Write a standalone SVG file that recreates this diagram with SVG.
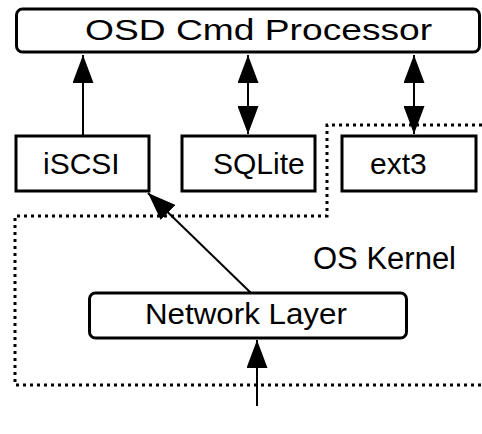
<svg xmlns="http://www.w3.org/2000/svg" width="482" height="434" viewBox="0 0 482 434">
<style>
.box{fill:#fff;stroke:#000;stroke-width:3}
.t{font-family:"Liberation Sans",Arial,sans-serif;fill:#000}
.c{stroke:#000;stroke-width:2;fill:none}
.dot{stroke:#000;stroke-width:3;fill:none;stroke-dasharray:3 4}
</style>
<defs>
<marker id="ah" viewBox="0 0 28 21" refX="28" refY="10.5" markerWidth="28" markerHeight="21" markerUnits="userSpaceOnUse" orient="auto-start-reverse">
<path d="M0,0 L28,10.5 L0,21 z" fill="#000"/>
</marker>
</defs>
<g id="kernel">
<path class="dot" d="M482,125 L327,125 L327,216 L15,216 L15,385 L482,385"/>
<text class="t" x="313" y="269" font-size="31">OS Kernel</text>
</g>
<g id="osd">
<rect class="box" x="16.5" y="9" width="463" height="43" rx="6"/>
<text class="t" transform="translate(85,40) scale(1.24,1)" font-size="30">OSD Cmd Processor</text>
</g>
<g id="iscsi">
<rect class="box" x="16" y="136" width="133" height="55"/>
<text class="t" x="43" y="174" font-size="30">iSCSI</text>
</g>
<g id="sqlite">
<rect class="box" x="182" y="136" width="133" height="55"/>
<text class="t" x="213" y="174" font-size="30">SQLite</text>
</g>
<g id="ext3">
<rect class="box" x="342" y="136" width="134" height="55"/>
<text class="t" x="370" y="174" font-size="30">ext3</text>
</g>
<g id="network">
<rect class="box" x="89.5" y="293" width="317" height="45" rx="6"/>
<text class="t" transform="translate(145,324) scale(1.08,1)" font-size="29">Network Layer</text>
</g>
<g id="connectors">
<line class="c" x1="83" y1="136" x2="83" y2="55" marker-end="url(#ah)"/>
<line class="c" x1="248" y1="55" x2="248" y2="134" marker-start="url(#ah)" marker-end="url(#ah)"/>
<line class="c" x1="414" y1="55" x2="414" y2="134" marker-start="url(#ah)" marker-end="url(#ah)"/>
<line class="c" x1="251" y1="293" x2="148" y2="193" marker-end="url(#ah)"/>
<line class="c" x1="257" y1="406" x2="257" y2="340" marker-end="url(#ah)"/>
</g>
</svg>
